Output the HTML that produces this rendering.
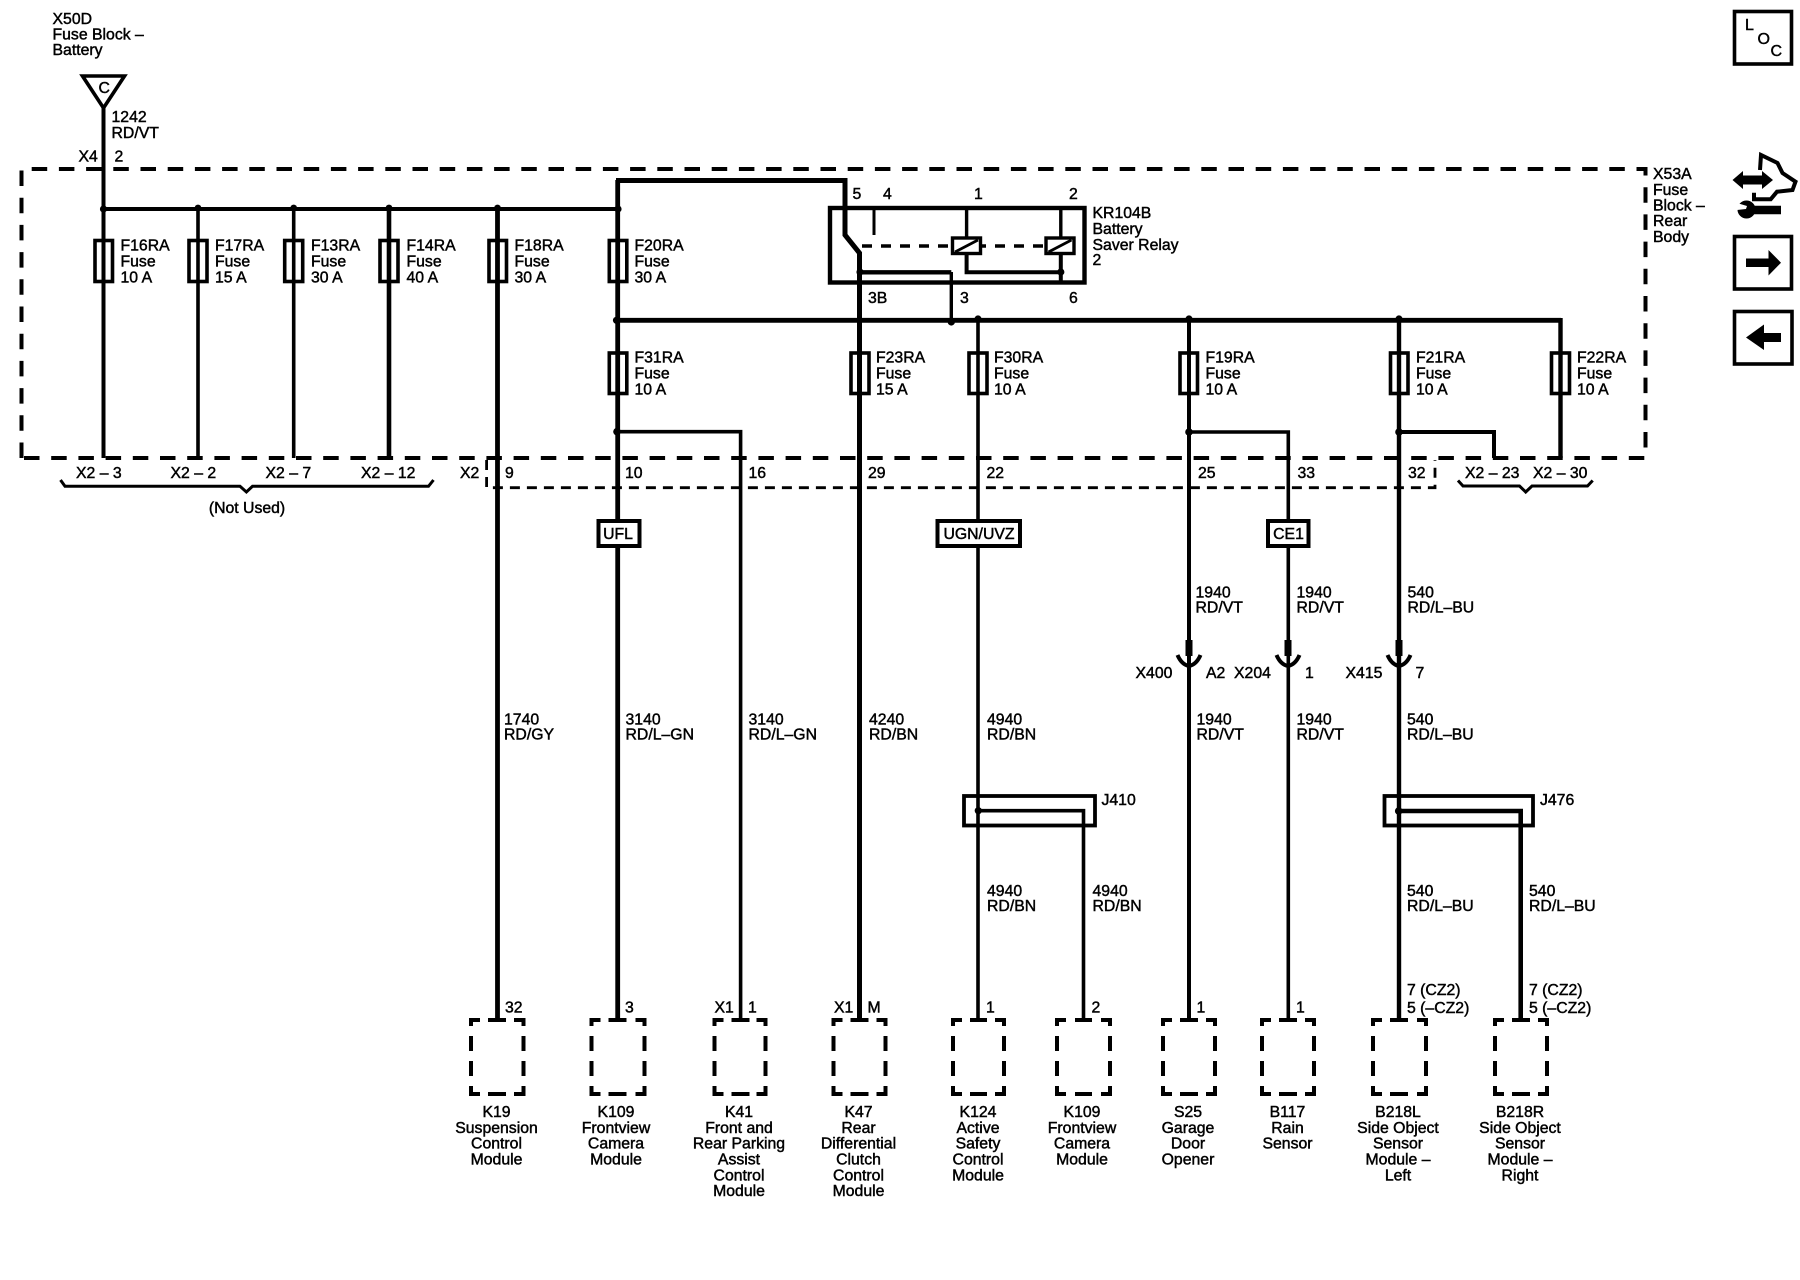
<!DOCTYPE html>
<html><head><meta charset="utf-8"><style>
html,body{margin:0;padding:0;background:#fff}
svg{display:block}
text{font-family:"Liberation Sans",sans-serif;font-size:15.8px;fill:#000;stroke:#000;stroke-width:.45}
.m{text-anchor:middle}
.w{fill:none;stroke:#000;stroke-linecap:butt;stroke-linejoin:miter}
.f{fill:#fff;stroke:#000;stroke-width:3.6;fill-opacity:0}
</style></head><body>
<svg width="1800" height="1280" viewBox="0 0 1800 1280" xmlns="http://www.w3.org/2000/svg">
<rect width="1800" height="1280" fill="#fff"/>

<!-- frame -->
<path class="w" stroke-width="4" stroke-dasharray="15.5 11.7" d="M21.5 458V169H1645.5V458Z"/>
<!-- X2 connector dashed -->
<path class="w" stroke-width="2.8" stroke-dasharray="10 7" d="M486.6 460V487.7H1435V460"/>

<!-- top source -->
<path class="w" stroke-width="3.6" d="M82.5 76H124.5L103.5 108Z"/>
<text x="98.5" y="93" font-size="14">C</text>
<path class="w" stroke-width="4" d="M103.5 108V458"/>
<path class="w" stroke-width="4" d="M103.5 209H618"/>
<path class="w" stroke-width="3.6" d="M198 209V458M293.7 209V458"/>
<path class="w" stroke-width="4.6" d="M389 209V458"/>
<!-- thick long wires -->
<path class="w" stroke-width="4.8" d="M497.5 209V1020M617.7 180V1020"/>
<path class="w" stroke-width="5" d="M616 180.5H845V235L859.5 253V1020"/>
<!-- bus 2 -->
<path class="w" stroke-width="4.8" d="M616 320.3H1561"/>
<path class="w" stroke-width="3.6" d="M978 320V1020"/>
<path class="w" stroke-width="4" d="M1189 320V655M1189 655V1020"/>
<path class="w" stroke-width="4.4" d="M1399 320V1020"/>
<path class="w" stroke-width="4.4" d="M1560.5 318V458"/>
<!-- branches -->
<path class="w" stroke-width="3.6" d="M618 431.7H740.6V1020"/>
<path class="w" stroke-width="3.6" d="M1189 432H1288.3V1020"/>
<path class="w" stroke-width="4" d="M1399 432H1494V458"/>

<!-- dots -->
<g fill="#000">
<circle cx="103.5" cy="209" r="3.6"/><circle cx="198" cy="208" r="3.4"/><circle cx="293.7" cy="208" r="3.4"/><circle cx="389" cy="208" r="3.4"/><circle cx="497.5" cy="208" r="3.4"/><circle cx="618" cy="209" r="3.6"/>
<circle cx="616.5" cy="320.3" r="3.6"/><circle cx="860" cy="320.3" r="3"/><circle cx="951.3" cy="322" r="3.6"/><circle cx="978" cy="319" r="3.6"/><circle cx="1189" cy="319" r="3.6"/><circle cx="1399" cy="319" r="3.6"/>
<circle cx="617" cy="431.7" r="3.8"/><circle cx="1189" cy="432" r="3.8"/><circle cx="1399" cy="432" r="3.8"/>
<circle cx="860" cy="272" r="3.6"/><circle cx="1060.8" cy="272" r="3.6"/>
<circle cx="978.3" cy="810.7" r="3.6"/><circle cx="1398.7" cy="811" r="3.8"/>
</g>

<!-- fuses -->
<g class="f">
<rect x="95" y="240.5" width="17.5" height="41" class="f"/>
<rect x="189" y="240.5" width="18" height="41" class="f"/>
<rect x="284.7" y="240.5" width="18" height="41" class="f"/>
<rect x="380" y="240.5" width="18" height="41" class="f"/>
<rect x="489" y="240.5" width="17.5" height="41" class="f"/>
<rect x="609.3" y="240.5" width="17.5" height="41" class="f"/>
<rect x="609.3" y="353" width="17.5" height="40.5" class="f"/>
<rect x="851" y="353" width="18" height="40.5" class="f"/>
<rect x="969" y="353" width="18" height="40.5" class="f"/>
<rect x="1180" y="353" width="17.5" height="40.5" class="f"/>
<rect x="1390.5" y="353" width="17.5" height="40.5" class="f"/>
<rect x="1551.5" y="353" width="18" height="40.5" class="f"/>
</g>

<!-- relay -->
<rect x="830" y="208" width="254.5" height="74.5" class="w" stroke-width="4.4"/>
<path class="w" stroke-width="3" d="M874 208V235"/>
<path class="w" stroke-width="3.4" stroke-dasharray="10 9" d="M862 246H1044"/>
<rect x="952.5" y="238" width="28" height="15.5" fill="#fff" stroke="#000" stroke-width="3.4"/>
<rect x="1046" y="238" width="28" height="15.5" fill="#fff" stroke="#000" stroke-width="3.4"/>
<path class="w" stroke-width="2.8" d="M955 252L978 240M1048.5 252L1071.5 240"/>
<path class="w" stroke-width="3.4" d="M966.6 208V237M1060.8 208V237"/>
<path class="w" stroke-width="4" d="M966.6 254V272.3H1060.8M1060.8 254V283"/>
<path class="w" stroke-width="4.4" d="M860 272.3H951.3"/>
<path class="w" stroke-width="3.4" d="M951.3 272V322"/>

<!-- braces -->
<path class="w" stroke-width="3" d="M60.5 480L65 486.3H240L246.4 492L252.5 486.3H428.5L433.5 480"/>
<path class="w" stroke-width="3" d="M1458 480.5L1463 486H1519.5L1525.7 492L1532 486H1587.5L1592.7 480.5"/>

<!-- option boxes -->
<rect x="598.5" y="521" width="41" height="25" fill="#fff" stroke="#000" stroke-width="4"/>
<rect x="937.5" y="521" width="82.5" height="25" fill="#fff" stroke="#000" stroke-width="4"/>
<rect x="1268" y="521" width="40.5" height="25" fill="#fff" stroke="#000" stroke-width="4"/>
<text class="m" x="618" y="539">UFL</text>
<text class="m" x="979" y="539">UGN/UVZ</text>
<text class="m" x="1288.5" y="539">CE1</text>

<!-- connectors -->
<path class="w" stroke-width="7" d="M1189 640V656M1288 640V656M1399 640V656"/>
<path class="w" stroke-width="4" d="M1177.5 655C1180 661 1184 665 1189 666C1194 665 1198 661 1200.5 655"/>
<path class="w" stroke-width="4" d="M1276.5 655C1279 661 1283 665 1288 666C1293 665 1297 661 1299.5 655"/>
<path class="w" stroke-width="4" d="M1387.5 655C1390 661 1394 665 1399 666C1404 665 1408 661 1410.5 655"/>

<!-- splice boxes -->
<rect x="964" y="796" width="131" height="29.5" class="w" stroke-width="3.8"/>
<path class="w" stroke-width="3.6" d="M978.3 810.7H1083.5V1020"/>
<rect x="1384.5" y="796" width="148.5" height="29.5" class="w" stroke-width="3.8"/>
<path class="w" stroke-width="4.6" d="M1398.7 811H1520.7V1020"/>

<!-- modules -->
<g class="w" stroke-width="4" fill="none">
<path d="M471 1026V1020H480M488 1020H506M514 1020H523.5V1026M471 1036V1051M471 1061V1076M523.5 1036V1051M523.5 1061V1076M471 1086V1094H480M488 1094H506M514 1094H523.5V1086"/>
<path d="M591.5 1026V1020H600.5M608.5 1020H626.5M635.5 1020H644.5V1026M591.5 1036V1051M591.5 1061V1076M644.5 1036V1051M644.5 1061V1076M591.5 1086V1094H600.5M608.5 1094H626.5M635.5 1094H644.5V1086"/>
<path d="M714.5 1026V1020H723.5M731.5 1020H749.5M756.5 1020H765.5V1026M714.5 1036V1051M714.5 1061V1076M765.5 1036V1051M765.5 1061V1076M714.5 1086V1094H723.5M731.5 1094H749.5M756.5 1094H765.5V1086"/>
<path d="M833.5 1026V1020H842.5M850.5 1020H868.5M876.5 1020H885.5V1026M833.5 1036V1051M833.5 1061V1076M885.5 1036V1051M885.5 1061V1076M833.5 1086V1094H842.5M850.5 1094H868.5M876.5 1094H885.5V1086"/>
<path d="M953 1026V1020H962M970 1020H987M995 1020H1004V1026M953 1036V1051M953 1061V1076M1004 1036V1051M1004 1061V1076M953 1086V1094H962M970 1094H987M995 1094H1004V1086"/>
<path d="M1057 1026V1020H1066M1075 1020H1092M1101 1020H1110V1026M1057 1036V1051M1057 1061V1076M1110 1036V1051M1110 1061V1076M1057 1086V1094H1066M1075 1094H1092M1101 1094H1110V1086"/>
<path d="M1163 1026V1020H1172M1180 1020H1198M1206 1020H1215V1026M1163 1036V1051M1163 1061V1076M1215 1036V1051M1215 1061V1076M1163 1086V1094H1172M1180 1094H1198M1206 1094H1215V1086"/>
<path d="M1262 1026V1020H1271M1279 1020H1297M1305 1020H1314V1026M1262 1036V1051M1262 1061V1076M1314 1036V1051M1314 1061V1076M1262 1086V1094H1271M1279 1094H1297M1305 1094H1314V1086"/>
<path d="M1373 1026V1020H1382M1390 1020H1408M1417 1020H1426V1026M1373 1036V1051M1373 1061V1076M1426 1036V1051M1426 1061V1076M1373 1086V1094H1382M1390 1094H1408M1417 1094H1426V1086"/>
<path d="M1495 1026V1020H1504M1512 1020H1530M1538 1020H1547V1026M1495 1036V1051M1495 1061V1076M1547 1036V1051M1547 1061V1076M1495 1086V1094H1504M1512 1094H1530M1538 1094H1547V1086"/>
</g>

<!-- labels top -->
<text x="52.5" y="24">X50D</text><text x="52.5" y="39.5">Fuse Block –</text><text x="52.5" y="55">Battery</text>
<text x="111.5" y="122">1242</text><text x="111.5" y="138">RD/VT</text>
<text x="78.5" y="161.5">X4</text><text x="114.5" y="161.5">2</text>

<text x="120.5" y="250.5">F16RA</text><text x="120.5" y="266.5">Fuse</text><text x="120.5" y="282.5">10 A</text>
<text x="215" y="250.5">F17RA</text><text x="215" y="266.5">Fuse</text><text x="215" y="282.5">15 A</text>
<text x="311" y="250.5">F13RA</text><text x="311" y="266.5">Fuse</text><text x="311" y="282.5">30 A</text>
<text x="406.5" y="250.5">F14RA</text><text x="406.5" y="266.5">Fuse</text><text x="406.5" y="282.5">40 A</text>
<text x="514.5" y="250.5">F18RA</text><text x="514.5" y="266.5">Fuse</text><text x="514.5" y="282.5">30 A</text>
<text x="634.5" y="250.5">F20RA</text><text x="634.5" y="266.5">Fuse</text><text x="634.5" y="282.5">30 A</text>

<text x="634.5" y="362.5">F31RA</text><text x="634.5" y="378.5">Fuse</text><text x="634.5" y="394.5">10 A</text>
<text x="876" y="362.5">F23RA</text><text x="876" y="378.5">Fuse</text><text x="876" y="394.5">15 A</text>
<text x="994" y="362.5">F30RA</text><text x="994" y="378.5">Fuse</text><text x="994" y="394.5">10 A</text>
<text x="1205.5" y="362.5">F19RA</text><text x="1205.5" y="378.5">Fuse</text><text x="1205.5" y="394.5">10 A</text>
<text x="1416" y="362.5">F21RA</text><text x="1416" y="378.5">Fuse</text><text x="1416" y="394.5">10 A</text>
<text x="1577" y="362.5">F22RA</text><text x="1577" y="378.5">Fuse</text><text x="1577" y="394.5">10 A</text>

<text x="852.5" y="199">5</text><text x="883" y="199">4</text><text x="974" y="199">1</text><text x="1069" y="199">2</text>
<text x="1092.5" y="218">KR104B</text><text x="1092.5" y="234">Battery</text><text x="1092.5" y="250">Saver Relay</text><text x="1092.5" y="265">2</text>
<text x="868" y="303">3B</text><text x="960" y="303">3</text><text x="1069" y="303">6</text>

<text x="1653" y="179">X53A</text><text x="1653" y="195">Fuse</text><text x="1653" y="210.5">Block –</text><text x="1653" y="226">Rear</text><text x="1653" y="242">Body</text>

<text x="76" y="478">X2 – 3</text><text x="170.5" y="478">X2 – 2</text><text x="265.5" y="478">X2 – 7</text><text x="361" y="478">X2 – 12</text>
<text x="460" y="478">X2</text><text x="505" y="478">9</text><text x="625" y="478">10</text><text x="748.5" y="478">16</text><text x="868" y="478">29</text><text x="986.5" y="478">22</text><text x="1198" y="478">25</text><text x="1297.5" y="478">33</text><text x="1408" y="478">32</text>
<text x="1465" y="478">X2 – 23</text><text x="1533" y="478">X2 – 30</text>
<text class="m" x="247" y="513">(Not Used)</text>

<!-- wire labels upper -->
<text x="1195.5" y="597.5">1940</text><text x="1195.5" y="612.5">RD/VT</text>
<text x="1296.5" y="597.5">1940</text><text x="1296.5" y="612.5">RD/VT</text>
<text x="1407.5" y="597.5">540</text><text x="1407.5" y="612.5">RD/L–BU</text>
<text x="1135.5" y="678">X400</text><text x="1206" y="678">A2</text><text x="1234" y="678">X204</text><text x="1305" y="678">1</text><text x="1345.5" y="678">X415</text><text x="1415.5" y="678">7</text>

<!-- wire labels mid -->
<text x="504" y="724.5">1740</text><text x="504" y="739.5">RD/GY</text>
<text x="625.5" y="724.5">3140</text><text x="625.5" y="739.5">RD/L–GN</text>
<text x="748.5" y="724.5">3140</text><text x="748.5" y="739.5">RD/L–GN</text>
<text x="869" y="724.5">4240</text><text x="869" y="739.5">RD/BN</text>
<text x="987" y="724.5">4940</text><text x="987" y="739.5">RD/BN</text>
<text x="1196.5" y="724.5">1940</text><text x="1196.5" y="739.5">RD/VT</text>
<text x="1296.5" y="724.5">1940</text><text x="1296.5" y="739.5">RD/VT</text>
<text x="1407" y="724.5">540</text><text x="1407" y="739.5">RD/L–BU</text>

<text x="1101.5" y="805">J410</text><text x="1540" y="805">J476</text>

<text x="987" y="896">4940</text><text x="987" y="911">RD/BN</text>
<text x="1092.5" y="896">4940</text><text x="1092.5" y="911">RD/BN</text>
<text x="1407" y="896">540</text><text x="1407" y="911">RD/L–BU</text>
<text x="1529" y="896">540</text><text x="1529" y="911">RD/L–BU</text>

<text x="1407" y="995">7 (CZ2)</text><text x="1407" y="1013">5 (–CZ2)</text>
<text x="1529" y="995">7 (CZ2)</text><text x="1529" y="1013">5 (–CZ2)</text>

<text x="505" y="1012.5">32</text><text x="625" y="1012.5">3</text>
<text x="714.5" y="1012.5">X1</text><text x="748" y="1012.5">1</text>
<text x="834" y="1012.5">X1</text><text x="867.5" y="1012.5">M</text>
<text x="986" y="1012.5">1</text><text x="1091.5" y="1012.5">2</text>
<text x="1196.5" y="1012.5">1</text><text x="1296" y="1012.5">1</text>

<!-- module names -->
<text class="m" x="496.5" y="1117">K19</text><text class="m" x="496.5" y="1133">Suspension</text><text class="m" x="496.5" y="1148.5">Control</text><text class="m" x="496.5" y="1164.5">Module</text>
<text class="m" x="616" y="1117">K109</text><text class="m" x="616" y="1133">Frontview</text><text class="m" x="616" y="1148.5">Camera</text><text class="m" x="616" y="1164.5">Module</text>
<text class="m" x="739" y="1117">K41</text><text class="m" x="739" y="1133">Front and</text><text class="m" x="739" y="1148.5">Rear Parking</text><text class="m" x="739" y="1164.5">Assist</text><text class="m" x="739" y="1180.5">Control</text><text class="m" x="739" y="1196">Module</text>
<text class="m" x="858.5" y="1117">K47</text><text class="m" x="858.5" y="1133">Rear</text><text class="m" x="858.5" y="1148.5">Differential</text><text class="m" x="858.5" y="1164.5">Clutch</text><text class="m" x="858.5" y="1180.5">Control</text><text class="m" x="858.5" y="1196">Module</text>
<text class="m" x="978" y="1117">K124</text><text class="m" x="978" y="1133">Active</text><text class="m" x="978" y="1148.5">Safety</text><text class="m" x="978" y="1164.5">Control</text><text class="m" x="978" y="1180.5">Module</text>
<text class="m" x="1082" y="1117">K109</text><text class="m" x="1082" y="1133">Frontview</text><text class="m" x="1082" y="1148.5">Camera</text><text class="m" x="1082" y="1164.5">Module</text>
<text class="m" x="1188" y="1117">S25</text><text class="m" x="1188" y="1133">Garage</text><text class="m" x="1188" y="1148.5">Door</text><text class="m" x="1188" y="1164.5">Opener</text>
<text class="m" x="1287.5" y="1117">B117</text><text class="m" x="1287.5" y="1133">Rain</text><text class="m" x="1287.5" y="1148.5">Sensor</text>
<text class="m" x="1398" y="1117">B218L</text><text class="m" x="1398" y="1133">Side Object</text><text class="m" x="1398" y="1148.5">Sensor</text><text class="m" x="1398" y="1164.5">Module –</text><text class="m" x="1398" y="1180.5">Left</text>
<text class="m" x="1520" y="1117">B218R</text><text class="m" x="1520" y="1133">Side Object</text><text class="m" x="1520" y="1148.5">Sensor</text><text class="m" x="1520" y="1164.5">Module –</text><text class="m" x="1520" y="1180.5">Right</text>

<!-- side icons -->
<rect x="1734.5" y="11.5" width="57" height="52.5" class="w" stroke-width="3.6"/>
<text x="1745" y="30" font-size="16" style="font-size:16px">L</text><text x="1757.5" y="44" style="font-size:16px">O</text><text x="1770.5" y="56" style="font-size:16px">C</text>

<path class="w" stroke-width="4" d="M1760 170L1761 155L1777.5 163L1782.5 173L1795.5 181.7L1792.5 190L1777 191.7L1770.7 199.3L1754 199.3V192.7"/>
<path fill="#000" d="M1732.5 180L1743 171V175.5H1762V171L1773 180L1762 189V184.5H1743V189Z"/>
<path class="w" stroke-width="8.5" stroke-linecap="round" d="M1750 210H1781"/>
<circle cx="1746.5" cy="209.5" r="9" fill="#000"/>
<path fill="#fff" d="M1737 203L1747 206L1746 209L1737 210Z"/>

<rect x="1734.5" y="236.5" width="57" height="52.5" class="w" stroke-width="3.6"/>
<path fill="#000" d="M1746 258.5H1768.5V250L1781 262.7L1768.5 275.5V267H1746Z"/>
<rect x="1734.5" y="311.5" width="57.5" height="52.5" class="w" stroke-width="3.6"/>
<path fill="#000" d="M1781 333H1764V324.5L1746 337.5L1764 350V342H1781Z"/>
</svg>
</body></html>
